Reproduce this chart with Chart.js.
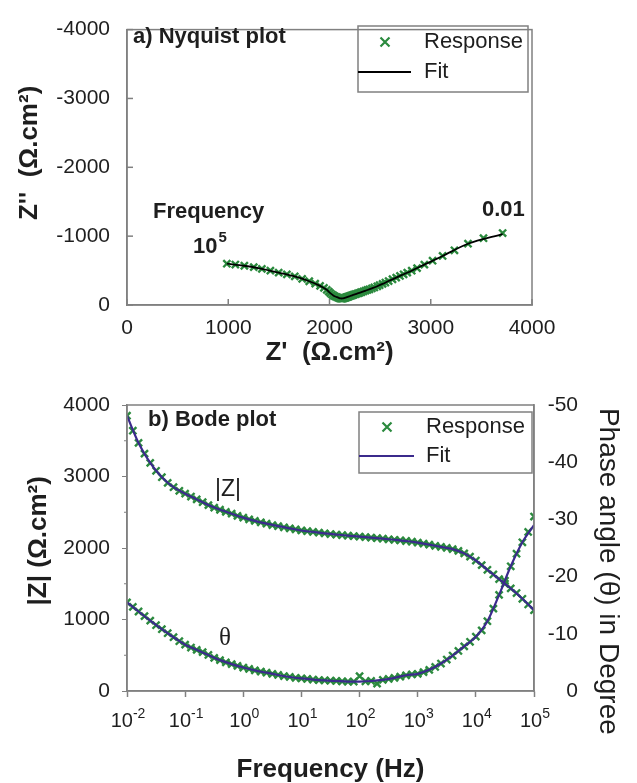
<!DOCTYPE html>
<html>
<head>
<meta charset="utf-8">
<script src="https://cdn.jsdelivr.net/npm/chart.js"></script>
<style>
  body { margin: 0; background: #fff; width: 637px; height: 783px; overflow: hidden; position: relative; }
  canvas { position: absolute; left: 0; }
</style>
</head>
<body>
<canvas id="nyquist" width="637" height="372" style="top:0"></canvas>
<canvas id="bode" width="637" height="413" style="top:370px"></canvas>
<script>
// ***************************************************************************************************
// Dados lidos da figura (resposta medida: 10 pontos por década, de 0.01 Hz a 100 kHz)

const freq = [
  0.01, 0.0126, 0.0158, 0.02, 0.0251, 0.0316, 0.0398, 0.0501, 0.0631, 0.0794,
  0.1, 0.126, 0.158, 0.2, 0.251, 0.316, 0.398, 0.501, 0.631, 0.794,
  1, 1.26, 1.58, 2, 2.51, 3.16, 3.98, 5.01, 6.31, 7.94,
  10, 12.6, 15.8, 20, 25.1, 31.6, 39.8, 50.1, 63.1, 79.4,
  100, 126, 158, 200, 251, 316, 398, 501, 631, 794,
  1000, 1260, 1580, 2000, 2510, 3160, 3980, 5010, 6310, 7940,
  10000, 12600, 15800, 20000, 25100, 31600, 39800, 50100, 63100, 79400,
  100000
];

// |Z| (ohm.cm2)
const zMod = [
  3850, 3640, 3470, 3320, 3190, 3080, 2990, 2910, 2850, 2800,
  2760, 2720, 2680, 2640, 2600, 2565, 2535, 2505, 2480, 2450,
  2425, 2400, 2380, 2360, 2340, 2320, 2305, 2290, 2275, 2260,
  2245, 2235, 2225, 2215, 2205, 2195, 2188, 2180, 2172, 2165,
  2160, 2152, 2145, 2137, 2130, 2122, 2115, 2108, 2098, 2088,
  2076, 2062, 2047, 2030, 2015, 2002, 1985, 1960, 1925, 1880,
  1825, 1760, 1695, 1630, 1565, 1500, 1435, 1370, 1290, 1210,
  1130
];

// angulo de fase (graus)
const phase = [
  -15.5, -14.7, -13.9, -13.1, -12.3, -11.5, -10.8, -10.1, -9.4, -8.7,
  -8.1, -7.6, -7.2, -6.8, -6.3, -5.8, -5.4, -5.0, -4.7, -4.4,
  -4.1, -3.85, -3.6, -3.4, -3.2, -3.0, -2.8, -2.6, -2.45, -2.3,
  -2.2, -2.1, -2.0, -1.9, -1.85, -1.8, -1.75, -1.7, -1.65, -1.65,
  -2.6, -1.7, -1.75, -1.3, -1.95, -2.1, -2.3, -2.5, -2.75, -2.9,
  -3.0, -3.3, -3.7, -4.2, -4.8, -5.5, -6.2, -7.0, -7.8, -8.6,
  -9.5, -10.6, -12.2, -14.4, -16.8, -19.3, -21.8, -24.0, -26.0, -27.8,
  -30.5
];

// Z' e Z'' (ohm.cm2) do diagrama de Nyquist
const zRe = [
  3710, 3521, 3368, 3234, 3117, 3018, 2937, 2865, 2812, 2768,
  2732, 2696, 2659, 2622, 2584, 2552, 2524, 2495, 2472, 2443,
  2419, 2395, 2375, 2356, 2336, 2317, 2302, 2288, 2273, 2258,
  2243, 2233, 2224, 2214, 2204, 2194, 2187, 2179, 2171, 2164,
  2159, 2151, 2144, 2136, 2129, 2121, 2113, 2106, 2096, 2084,
  2072, 2055, 2041, 2025, 2008, 1993, 1973, 1945, 1907, 1859,
  1800, 1730, 1657, 1579, 1498, 1416, 1332, 1252, 1159, 1070,
  986
];
const zIm = [
  -1045, -970, -890, -795, -712, -643, -586, -536, -498, -470,
  -446, -422, -398, -374, -348, -326, -306, -287, -272, -255,
  -242, -228, -218, -208, -198, -188, -180, -173, -166, -159,
  -151, -146, -141, -136, -131, -126, -122, -118, -114, -110,
  -107, -103, -100, -97, -95, -94, -95, -97, -101, -107,
  -115, -124, -135, -152, -172, -195, -220, -248, -278, -310,
  -345, -380, -415, -445, -470, -500, -525, -550, -570, -588,
  -600
];

// curva ajustada (5 pontos por década)
const freqFit = [
  0.01, 0.0158, 0.0251, 0.0398, 0.0631, 0.1, 0.158, 0.251, 0.398, 0.631,
  1, 1.58, 2.51, 3.98, 6.31, 10, 15.8, 25.1, 39.8, 63.1,
  100, 158, 251, 398, 631, 1000, 1580, 2510, 3980, 6310,
  10000, 15800, 25100, 39800, 63100, 100000
];
const zModFit = [
  3850, 3470, 3190, 2990, 2850, 2760, 2680, 2600, 2535, 2480,
  2425, 2380, 2340, 2305, 2275, 2245, 2225, 2205, 2188, 2172,
  2160, 2145, 2130, 2115, 2098, 2076, 2047, 2015, 1985, 1925,
  1825, 1695, 1565, 1435, 1290, 1130
];
const phaseFit = [
  -15.5, -13.9, -12.3, -10.8, -9.4, -8.1, -7.2, -6.3, -5.4, -4.7,
  -4.1, -3.6, -3.2, -2.8, -2.45, -2.2, -2.0, -1.85, -1.75, -1.65,
  -1.65, -1.75, -1.95, -2.3, -2.75, -3.0, -3.7, -4.8, -6.2, -7.8,
  -9.5, -12.2, -16.8, -21.8, -26.0, -29.0
];
const zReFit = [
  3710, 3368, 3117, 2937, 2812, 2732, 2659, 2584, 2524, 2472,
  2419, 2375, 2336, 2302, 2273, 2243, 2224, 2204, 2187, 2171,
  2159, 2144, 2129, 2113, 2096, 2072, 2041, 2008, 1973, 1907,
  1800, 1657, 1498, 1332, 1159, 986
];
const zImFit = [
  -1030, -890, -712, -586, -498, -446, -398, -348, -306, -272,
  -242, -218, -198, -180, -166, -151, -141, -131, -122, -114,
  -107, -100, -95, -95, -101, -115, -135, -172, -220, -278,
  -345, -415, -470, -525, -570, -600
];

// eixo de frequência: 10^n
const xTickVals = [0.01, 0.1, 1, 10, 100, 1000, 10000, 100000];
const xTickExps = ['-2', '-1', '0', '1', '2', '3', '4', '5'];
const yMinorTicks = [500, 1500, 2500, 3500];

// ***************************************************************************************************

const GREEN = '#2b8a3e';
const GRAY = '#808080';
const INK = '#1e1e1e';
const FIT_BLUE = '#3b2a8c';
const FONT = "'Liberation Sans', Arial, sans-serif";

Chart.defaults.font.family = FONT;
Chart.defaults.color = INK;

function pts(xs, ys) {
  return xs.map((v, i) => ({ x: v, y: ys[i] }));
}

// moldura, marcas internas, legenda e textos soltos
const decorations = {
  id: 'decorations',
  afterDraw(chart, args, opts) {
    const ctx = chart.ctx;
    const a = chart.chartArea;
    ctx.save();
    ctx.strokeStyle = GRAY;
    ctx.lineWidth = 1.5;
    ctx.strokeRect(a.left, a.top, a.right - a.left, a.bottom - a.top);

    (opts.inner || []).forEach(id => {
      const s = chart.scales[id];
      s.ticks.forEach(t => {
        const p = s.getPixelForValue(t.value);
        ctx.beginPath();
        if (s.isHorizontal()) { ctx.moveTo(p, a.bottom); ctx.lineTo(p, a.bottom - 6); }
        else { ctx.moveTo(a.left, p); ctx.lineTo(a.left + 6, p); }
        ctx.stroke();
      });
    });

    if (opts.minor) {
      const s = chart.scales[opts.minor.scale];
      ctx.lineWidth = 1;
      opts.minor.values.forEach(v => {
        const p = s.getPixelForValue(v);
        ctx.beginPath();
        ctx.moveTo(a.left - 3, p); ctx.lineTo(a.left, p);
        ctx.stroke();
      });
    }

    // rótulos 10^n com expoente sobrescrito
    if (opts.powers) {
      const s = chart.scales[opts.powers.scale];
      ctx.fillStyle = INK;
      ctx.textBaseline = 'middle';
      ctx.textAlign = 'left';
      opts.powers.values.forEach((v, i) => {
        const p = s.getPixelForValue(v);
        const e = opts.powers.exps[i];
        ctx.font = '20px ' + FONT;
        const wb = ctx.measureText('10').width;
        ctx.font = '14px ' + FONT;
        const we = ctx.measureText(e).width;
        const x0 = p - (wb + we) / 2 + 1;
        ctx.font = '20px ' + FONT;
        ctx.fillText('10', x0, opts.powers.y);
        ctx.font = '14px ' + FONT;
        ctx.fillText(e, x0 + wb, opts.powers.y - 7);
      });
    }

    const L = opts.legend;
    if (L) {
      ctx.strokeStyle = GRAY;
      ctx.lineWidth = 1.5;
      ctx.strokeRect(L.x, L.y, L.w, L.h);
      ctx.strokeStyle = GREEN;
      ctx.lineWidth = 2.2;
      const r = 4.5;
      ctx.beginPath();
      ctx.moveTo(L.mx - r, L.y1 - r); ctx.lineTo(L.mx + r, L.y1 + r);
      ctx.moveTo(L.mx - r, L.y1 + r); ctx.lineTo(L.mx + r, L.y1 - r);
      ctx.stroke();
      ctx.strokeStyle = L.lineColor;
      ctx.lineWidth = 2;
      ctx.beginPath();
      ctx.moveTo(L.x, L.y2); ctx.lineTo(L.lx2, L.y2);
      ctx.stroke();
      ctx.fillStyle = INK;
      ctx.font = '22px ' + FONT;
      ctx.textBaseline = 'middle';
      ctx.textAlign = 'left';
      ctx.fillText('Response', L.tx, L.y1);
      ctx.fillText('Fit', L.tx, L.y2);
    }

    (opts.texts || []).forEach(t => {
      ctx.fillStyle = INK;
      ctx.font = t.font;
      ctx.textBaseline = 'middle';
      ctx.textAlign = 'left';
      ctx.fillText(t.text, t.x, t.y);
      if (t.sup) {
        const w = ctx.measureText(t.text).width;
        ctx.font = t.supFont;
        ctx.fillText(t.sup, t.x + w + 1, t.y - 9);
      }
    });
    ctx.restore();
  }
};

const tickFont = { size: 21 };
const marker = {
  showLine: false,
  pointStyle: 'crossRot',
  pointRadius: 5,
  pointBorderColor: GREEN,
  pointBorderWidth: 2.4
};

// ***************************************************************************************************
// a) Nyquist

new Chart(document.getElementById('nyquist'), {
  type: 'scatter',
  data: {
    datasets: [
      {
        label: 'Fit',
        data: pts(zReFit, zImFit),
        showLine: true,
        borderColor: '#000',
        borderWidth: 1.8,
        pointRadius: 0,
        tension: 0.3
      },
      Object.assign({ label: 'Response', data: pts(zRe, zIm) }, marker)
    ]
  },
  options: {
    responsive: false,
    animation: false,
    layout: { padding: { left: 0, top: 19, right: 105, bottom: 0 } },
    plugins: {
      legend: { display: false },
      tooltip: { enabled: false },
      decorations: {
        inner: ['x', 'y'],
        legend: { x: 358, y: 26, w: 170, h: 66, mx: 385, y1: 42, y2: 72, lx2: 411, tx: 424, lineColor: '#000' },
        texts: [
          { text: 'a) Nyquist plot', x: 133, y: 37, font: 'bold 22px ' + FONT },
          { text: 'Frequency', x: 153, y: 212, font: 'bold 22px ' + FONT },
          { text: '10', x: 193, y: 247, font: 'bold 22px ' + FONT, sup: '5', supFont: 'bold 15px ' + FONT },
          { text: '0.01', x: 482, y: 210, font: 'bold 22px ' + FONT }
        ]
      }
    },
    scales: {
      x: {
        type: 'linear',
        min: 0, max: 4000,
        ticks: { stepSize: 1000, font: tickFont, padding: 11, callback: v => String(v) },
        grid: { display: false, drawTicks: false },
        border: { color: GRAY, width: 1.5 },
        title: { display: true, text: "Z'  (Ω.cm²)", font: { size: 26, weight: 'bold' }, padding: { top: 0, bottom: 4 } },
        afterFit: s => { s.height = 67; }
      },
      y: {
        type: 'linear',
        reverse: true,
        min: -4000, max: 0,
        ticks: { stepSize: 1000, font: tickFont, padding: 17, callback: v => String(v) },
        grid: { display: false, drawTicks: false },
        border: { color: GRAY, width: 1.5 },
        title: { display: true, text: "    Z''  (Ω.cm²)", font: { size: 26, weight: 'bold' }, padding: { top: 14, bottom: 0 } },
        afterFit: s => { s.width = 127; }
      }
    }
  },
  plugins: [decorations]
});

// ***************************************************************************************************
// b) Bode

new Chart(document.getElementById('bode'), {
  type: 'scatter',
  data: {
    datasets: [
      {
        label: 'Fit |Z|',
        data: pts(freqFit, zModFit),
        yAxisID: 'y',
        showLine: true,
        borderColor: FIT_BLUE,
        borderWidth: 2.2,
        pointRadius: 0,
        tension: 0.3
      },
      {
        label: 'Fit θ',
        data: pts(freqFit, phaseFit),
        yAxisID: 'y1',
        showLine: true,
        borderColor: FIT_BLUE,
        borderWidth: 2.2,
        pointRadius: 0,
        tension: 0.3
      },
      Object.assign({ label: 'Response |Z|', data: pts(freq, zMod), yAxisID: 'y' }, marker),
      Object.assign({ label: 'Response θ', data: pts(freq, phase), yAxisID: 'y1' }, marker)
    ]
  },
  options: {
    responsive: false,
    animation: false,
    layout: { padding: { left: 0, top: 35, right: 59, bottom: 0 } },
    plugins: {
      legend: { display: false },
      tooltip: { enabled: false },
      decorations: {
        minor: { scale: 'y', values: yMinorTicks },
        powers: { scale: 'x', values: xTickVals, exps: xTickExps, y: 351 },
        legend: { x: 359, y: 42, w: 173, h: 61, mx: 387, y1: 57, y2: 86, lx2: 414, tx: 426, lineColor: FIT_BLUE },
        texts: [
          { text: 'b) Bode plot', x: 148, y: 50, font: 'bold 22px ' + FONT },
          { text: '|Z|', x: 215, y: 120, font: '23px ' + FONT },
          { text: 'θ', x: 219, y: 268, font: "25px 'Liberation Serif', serif" }
        ]
      }
    },
    scales: {
      x: {
        type: 'logarithmic',
        min: 0.01, max: 100000,
        afterBuildTicks: s => { s.ticks = xTickVals.map(v => ({ value: v })); },
        ticks: { display: false, autoSkip: false, maxRotation: 0 },
        grid: { display: true, drawOnChartArea: false, drawTicks: true, tickLength: 6, color: GRAY, tickWidth: 1.5 },
        border: { color: GRAY, width: 1.5 },
        title: { display: true, text: 'Frequency (Hz)', font: { size: 26, weight: 'bold', lineHeight: 1.0 }, padding: 0 },
        afterFit: s => { s.height = 92; }
      },
      y: {
        type: 'linear',
        position: 'left',
        min: 0, max: 4000,
        ticks: { stepSize: 1000, font: tickFont, padding: 12, callback: v => String(v) },
        grid: { display: true, drawOnChartArea: false, drawTicks: true, tickLength: 5, color: GRAY },
        border: { color: GRAY, width: 1.5 },
        title: { display: true, text: '  |Z| (Ω.cm²)', font: { size: 26, weight: 'bold' }, padding: { top: 23, bottom: 0 } },
        afterFit: s => { s.width = 127; }
      },
      y1: {
        type: 'linear',
        position: 'right',
        reverse: true,
        min: -50, max: 0,
        ticks: { stepSize: 10, font: tickFont, padding: 14, crossAlign: 'far', callback: v => String(v) },
        grid: { display: false, drawTicks: false },
        border: { color: GRAY, width: 1.5 },
        title: { display: true, text: '      Phase angle (θ) in Degree', font: { size: 28 }, padding: { top: -47, bottom: 0 } },
        afterFit: s => { s.width = 44; }
      }
    }
  },
  plugins: [decorations]
});
</script>
</body>
</html>
